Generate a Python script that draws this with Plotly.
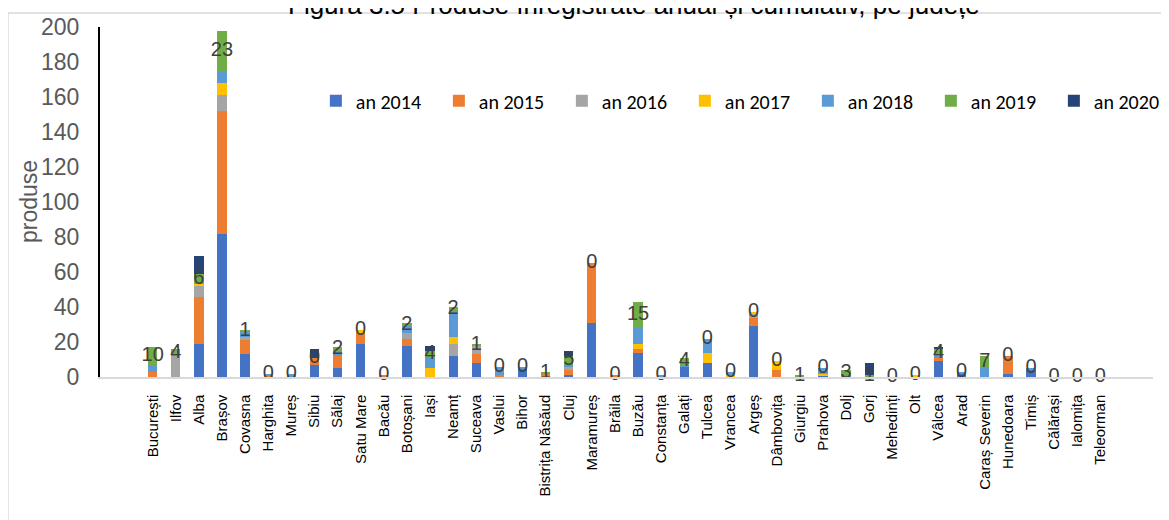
import plotly.graph_objects as go

judete = ['București', 'Ilfov', 'Alba', 'Brașov', 'Covasna', 'Harghita', 'Mureș', 'Sibiu',
          'Sălaj', 'Satu Mare', 'Bacău', 'Botoșani', 'Iași', 'Neamț', 'Suceava', 'Vaslui',
          'Bihor', 'Bistrița Năsăud', 'Cluj', 'Maramureș', 'Brăila', 'Buzău', 'Constanța',
          'Galați', 'Tulcea', 'Vrancea', 'Argeș', 'Dâmbovița', 'Giurgiu', 'Prahova', 'Dolj',
          'Gorj', 'Mehedinți', 'Olt', 'Vâlcea', 'Arad', 'Caraș Severin', 'Hunedoara', 'Timiș',
          'Călărași', 'Ialomița', 'Teleorman']

an2014 = [0, 0, 19, 82, 13, 0, 0, 7, 5, 19, 0, 18, 0, 12, 8, 0, 5, 0, 1, 31, 0, 14, 0,
          6, 8, 0, 29, 0, 0, 1, 0, 0, 0, 0, 9, 2, 0, 2, 4, 0, 0, 0]
an2015 = [3, 0, 27, 70, 8, 1, 0, 4, 7, 6, 1, 4, 0, 0, 5, 1, 0, 2, 3, 34, 1, 2, 0,
          0, 0, 0, 5, 4, 0, 0, 0, 0, 0, 0, 2, 0, 0, 10, 0, 0, 0, 0]
an2016 = [0, 12, 6, 9, 2, 0, 0, 0, 0, 0, 0, 3, 0, 7, 5, 0, 0, 0, 2, 0, 0, 0, 0,
          0, 0, 0, 2, 0, 0, 0, 0, 0, 0, 0, 0, 0, 0, 0, 0, 0, 0, 0]
an2017 = [0, 0, 1, 7, 0, 0, 0, 0, 0, 2, 0, 0, 5, 4, 0, 0, 0, 0, 0, 0, 0, 3, 0,
          0, 6, 1, 1, 5, 0, 1, 0, 0, 0, 1, 0, 0, 0, 0, 0, 0, 0, 0]
an2018 = [4, 0, 0, 7, 3, 1, 2, 0, 3, 0, 0, 4, 6, 15, 0, 5, 1, 0, 1, 0, 0, 9, 1,
          1, 8, 2, 0, 0, 0, 3, 1, 0, 0, 0, 1, 1, 5, 0, 1, 0, 0, 0]
an2019 = [10, 4, 6, 23, 1, 0, 0, 0, 2, 0, 0, 2, 4, 2, 1, 0, 0, 1, 5, 0, 0, 15, 0,
          4, 0, 0, 0, 0, 1, 0, 3, 1, 0, 0, 4, 0, 7, 0, 0, 0, 0, 0]
an2020 = [0, 0, 10, 0, 0, 0, 0, 5, 0, 0, 0, 0, 3, 0, 0, 0, 0, 0, 3, 0, 0, 0, 0,
          0, 0, 0, 0, 0, 0, 0, 0, 7, 0, 0, 1, 0, 0, 0, 0, 0, 0, 0]

serii = [('an 2014', an2014, '#4472C4'), ('an 2015', an2015, '#ED7D31'),
         ('an 2016', an2016, '#A5A5A5'), ('an 2017', an2017, '#FFC000'),
         ('an 2018', an2018, '#5B9BD5'), ('an 2019', an2019, '#70AD47'),
         ('an 2020', an2020, '#264478')]

fig = go.Figure()
for nume, vals, col in serii:
    fig.add_trace(go.Bar(x=judete, y=vals, name=nume, marker_color=col, marker_line_width=0))

# etichete pentru anul 2019, la mijlocul segmentului
baza = [sum(v) for v in zip(an2014, an2015, an2016, an2017, an2018)]
eticheta_y = [b + v / 2 for b, v in zip(baza, an2019)]
fig.add_trace(go.Scatter(x=judete, y=eticheta_y, mode='text', text=[str(v) for v in an2019],
                         textfont=dict(size=20, color='#404040', family='Liberation Sans, Arial'),
                         showlegend=False, hoverinfo='skip', cliponaxis=False))

fig.update_layout(
    width=1169, height=520,
    barmode='stack', bargap=0.6,
    plot_bgcolor='white', paper_bgcolor='white',
    font=dict(family='Liberation Sans, Arial', color='#000000'),
    margin=dict(l=92, r=24, t=19, b=151, autoexpand=False),
    legend=dict(orientation='h', x=0.205, xanchor='left', y=0.789, yanchor='middle',
                traceorder='normal',
                font=dict(size=20, color='#000000', family='Carlito, Liberation Sans, Arial'),
                entrywidth=78, entrywidthmode='pixels', bgcolor='rgba(0,0,0,0)'),
    showlegend=True,
)

# titlul figurii (taiat sus, ca in original)
fig.add_annotation(text='Figura 3.5 Produse înregistrate anual și cumulativ, pe județe',
                   xref='paper', yref='paper', x=0.507, y=1.063, xanchor='center', yanchor='middle',
                   showarrow=False, font=dict(size=26, color='#000000'))
fig.add_annotation(text='produse', xref='paper', yref='paper', x=-0.0674, y=0.5,
                   xanchor='center', yanchor='middle', textangle=-90, showarrow=False,
                   font=dict(size=23, color='#595959'))

fig.update_yaxes(range=[0, 200], dtick=20, showgrid=False, zeroline=False,
                 showline=True, linecolor='black', linewidth=2, ticks='',
                 ticklabelstandoff=14,
                 tickfont=dict(size=23, color='#595959'))
fig.update_xaxes(showgrid=False, showline=True, linecolor='#D9D9D9', linewidth=1.5,
                 tickangle=-90, ticks='', ticklabelstandoff=10,
                 tickfont=dict(size=15, color='#000000'))

# chenarul zonei graficului
fig.add_shape(type='rect', xref='paper', yref='paper',
              x0=-0.0874, x1=1.03, y0=-0.45, y1=1.04,
              line=dict(color='#D9D9D9', width=1.5), fillcolor='rgba(0,0,0,0)', layer='below')

fig.write_html('out.html')
